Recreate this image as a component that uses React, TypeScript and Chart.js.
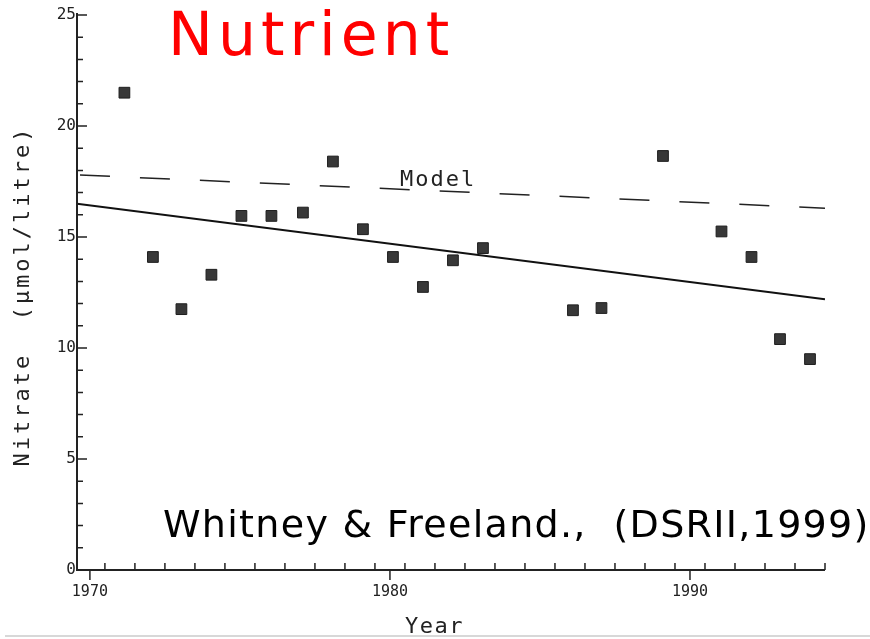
import { useEffect, useRef } from "react";
import { Chart, registerables } from "chart.js";

Chart.register(...registerables);

const years = [1971.15, 1972.1, 1973.05, 1974.05, 1975.05, 1976.05, 1977.1, 1978.1, 1979.1, 1980.1, 1981.1, 1982.1, 1983.1, 1986.1, 1987.05, 1989.1, 1991.05, 1992.05, 1993.0, 1994.0];
const nitrate = [21.5, 14.1, 11.75, 13.3, 15.95, 15.95, 16.1, 18.4, 15.35, 14.1, 12.75, 13.95, 14.5, 11.7, 11.8, 18.65, 15.25, 14.1, 10.4, 9.5];
const trendYears = [1969.57, 1994.5];
const trendValues = [16.5, 12.2];
const modelYears = [1969.57, 1994.5];
const modelValues = [17.8, 16.3];
const yTicks = [0, 5, 10, 15, 20, 25];
const xMajorTicks = [1970, 1980, 1990];

const TITLE = "Nutrient";
const CITATION = "Whitney & Freeland.,  (DSRII,1999)";
const MODEL_LABEL = "Model";
const Y_TITLE = "Nitrate  (\u00b5mol/litre)";
const X_TITLE = "Year";

const MONO = '"DejaVu Sans Mono", "Liberation Mono", monospace';
const SANS = '"DejaVu Sans", Verdana, sans-serif';

const decor = {
  id: "decor",
  afterDraw(chart: any) {
    const { ctx, chartArea: a, scales } = chart;
    const x = scales.x;
    const y = scales.y;
    ctx.save();
    // axes
    ctx.strokeStyle = "#222";
    ctx.lineWidth = 2;
    ctx.beginPath();
    ctx.moveTo(a.left, a.top - 2);
    ctx.lineTo(a.left, a.bottom);
    ctx.lineTo(a.right, a.bottom);
    ctx.stroke();
    // ticks
    ctx.lineWidth = 1.5;
    ctx.beginPath();
    for (let v = y.min; v <= y.max + 1e-6; v++) {
      const py = y.getPixelForValue(v);
      const len = v % 5 === 0 ? 10 : 6;
      ctx.moveTo(a.left, py);
      ctx.lineTo(a.left + len, py);
    }
    for (let v = Math.ceil(x.min - 0.5) + 0.5; v <= x.max + 1e-6; v++) {
      const px = x.getPixelForValue(v);
      ctx.moveTo(px, a.bottom);
      ctx.lineTo(px, a.bottom - 7);
    }
    for (const v of xMajorTicks) {
      const px = x.getPixelForValue(v);
      ctx.moveTo(px, a.bottom);
      ctx.lineTo(px, a.bottom + 10);
    }
    ctx.stroke();

    // texts
    ctx.textBaseline = "alphabetic";
    ctx.textAlign = "left";
    // title
    ctx.fillStyle = "#ff0000";
    ctx.font = `60px ${SANS}`;
    (ctx as any).letterSpacing = "5px";
    ctx.fillText(TITLE, 168, 55);
    // citation
    ctx.fillStyle = "#000";
    ctx.font = `38px ${SANS}`;
    (ctx as any).letterSpacing = "1.3px";
    ctx.fillText(CITATION, 163, 537);
    // model label
    ctx.fillStyle = "#222";
    ctx.font = `22px ${MONO}`;
    (ctx as any).letterSpacing = "2px";
    ctx.fillText(MODEL_LABEL, 400, 186);
    // x title
    (ctx as any).letterSpacing = "1.5px";
    ctx.fillText(X_TITLE, 405, 633);
    // y title
    ctx.save();
    ctx.translate(29, 296);
    ctx.rotate(-Math.PI / 2);
    ctx.textAlign = "center";
    (ctx as any).letterSpacing = "3px";
    ctx.fillText(Y_TITLE, 0, 0);
    ctx.restore();
    (ctx as any).letterSpacing = "0px";

    // scan edge line at the bottom
    ctx.strokeStyle = "#d8d8d8";
    ctx.lineWidth = 2;
    ctx.beginPath();
    ctx.moveTo(5, 636);
    ctx.lineTo(870, 636);
    ctx.stroke();
    ctx.restore();
  },
};

export default function App() {
  const ref = useRef<HTMLCanvasElement | null>(null);

  useEffect(() => {
    if (!ref.current) return;
    const chart = new Chart(ref.current, {
      type: "scatter",
      data: {
        datasets: [
          {
            label: "Observed",
            data: years.map((yr, i) => ({ x: yr, y: nitrate[i] })),
            pointStyle: "rect",
            pointRadius: 7.6,
            pointBackgroundColor: "#383838",
            pointBorderColor: "#1e1e1e",
            pointBorderWidth: 1,
            showLine: false,
          },
          {
            label: "Trend",
            data: trendYears.map((yr, i) => ({ x: yr, y: trendValues[i] })),
            showLine: true,
            borderColor: "#111",
            borderWidth: 2,
            pointRadius: 0,
          },
          {
            label: "Model",
            data: modelYears.map((yr, i) => ({ x: yr, y: modelValues[i] })),
            showLine: true,
            borderColor: "#222",
            borderWidth: 1.5,
            borderDash: [30, 30],
            borderDashOffset: 57,
            pointRadius: 0,
          },
        ],
      },
      options: {
        responsive: false,
        animation: false,
        layout: { padding: { top: 15, right: 45, left: 0, bottom: 0 } },
        plugins: {
          legend: { display: false },
          tooltip: { enabled: false },
          title: { display: false },
        },
        scales: {
          x: {
            type: "linear",
            min: 1969.57,
            max: 1994.5,
            grid: { display: false, drawTicks: false },
            border: { display: false },
            afterBuildTicks: (scale: any) => {
              scale.ticks = xMajorTicks.map((v) => ({ value: v }));
            },
            afterFit: (scale: any) => {
              scale.height = 69;
            },
            ticks: {
              font: { family: MONO, size: 15 },
              color: "#222",
              padding: 13,
              maxRotation: 0,
              callback: (v: any) => String(v),
            },
          },
          y: {
            type: "linear",
            min: 0,
            max: 25,
            grid: { display: false, drawTicks: false },
            border: { display: false },
            afterBuildTicks: (scale: any) => {
              scale.ticks = yTicks.map((v) => ({ value: v }));
            },
            afterFit: (scale: any) => {
              scale.width = 77;
            },
            ticks: {
              font: { family: MONO, size: 16 },
              color: "#222",
              padding: 1,
              callback: (v: any) => String(v),
            },
          },
        },
      },
      plugins: [decor],
    });
    return () => chart.destroy();
  }, []);

  return (
    <div style={{ position: "fixed", left: 0, top: 0, width: 870, height: 639, background: "#fff" }}>
      <canvas ref={ref} width={870} height={639} style={{ display: "block" }} />
    </div>
  );
}
